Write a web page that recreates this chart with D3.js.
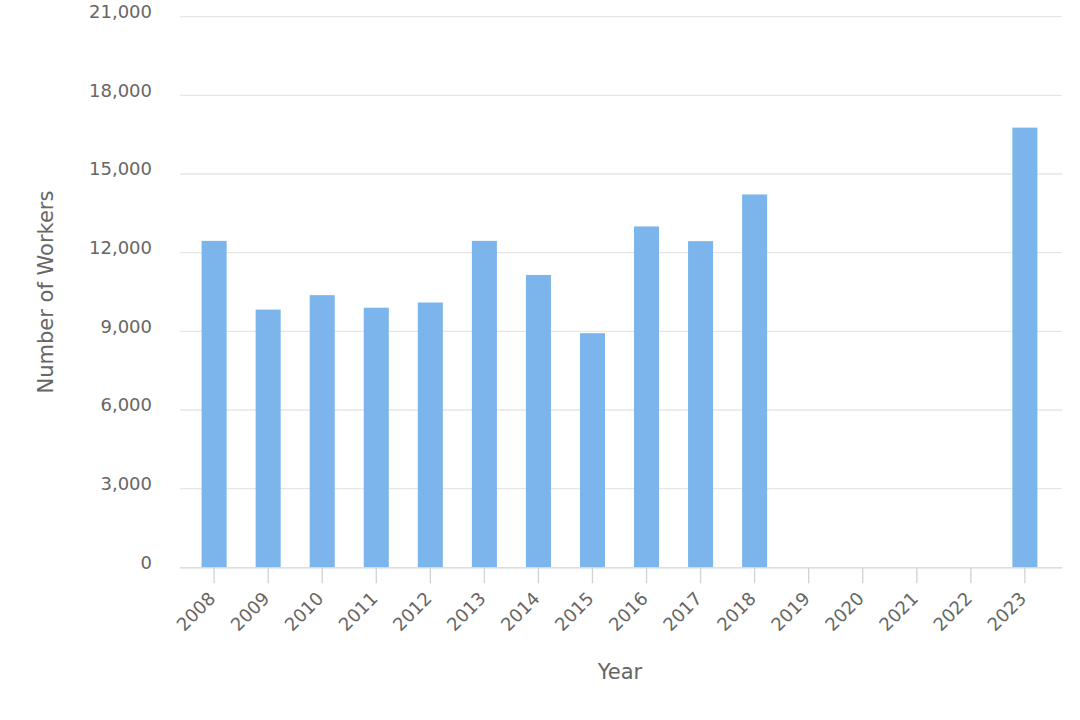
<!DOCTYPE html>
<html>
<head>
<meta charset="utf-8">
<script src="https://cdn.jsdelivr.net/npm/d3@7"></script>
<style>
  html, body { margin: 0; padding: 0; background: #ffffff; }
  svg { display: block; }
  svg text { font-family: "DejaVu Sans", Verdana, sans-serif !important; }
</style>
</head>
<body>
<svg id="chart" width="1080" height="720"></svg>
<script>
const years = ["2008","2009","2010","2011","2012","2013","2014","2015","2016","2017","2018","2019","2020","2021","2022","2023"];
const workers = [12450, 9830, 10380, 9900, 10100, 12450, 11150, 8930, 13000, 12440, 14220, null, null, null, null, 16770];
const yTicks = [0, 3000, 6000, 9000, 12000, 15000, 18000, 21000];
const xTitle = "Year";
const yTitle = "Number of Workers";

const FONT = "DejaVu Sans, Verdana, sans-serif";
const svg = d3.select("#chart");
const plotLeft = 180, plotRight = 1062, plotTop = 16.7, plotBottom = 567.3;

const x = d3.scaleBand().domain(years).range([187, 1052]).paddingInner(0.537).paddingOuter(0.27);
const y = d3.scaleLinear().domain([0, 21000]).range([plotBottom, plotTop]);

// gridlines
svg.append("g").selectAll("line").data(yTicks.filter(d => d > 0)).join("line")
  .attr("x1", plotLeft).attr("x2", plotRight)
  .attr("y1", d => y(d)).attr("y2", d => y(d))
  .attr("stroke", "#e6e6e6").attr("stroke-width", 1.3);

// y axis labels
const yAxis = d3.axisLeft(y).tickValues(yTicks).tickSize(0).tickPadding(0)
  .tickFormat(d3.format(","));
const yg = svg.append("g").attr("transform", `translate(152,0)`).call(yAxis);
yg.attr("font-family", FONT);
yg.select(".domain").remove();
yg.selectAll("text").attr("fill", "#666666").attr("font-size", 18).attr("dy", "0.05em");

// bars
svg.append("g").selectAll("rect").data(years.map((yr, i) => ({yr, v: workers[i]})).filter(d => d.v != null)).join("rect")
  .attr("x", d => x(d.yr))
  .attr("width", x.bandwidth())
  .attr("y", d => y(d.v))
  .attr("height", d => y(0) - y(d.v))
  .attr("fill", "#7cb5ec");

// x axis
const xAxis = d3.axisBottom(x).tickSize(16).tickPadding(4);
const xg = svg.append("g").attr("transform", `translate(0,${plotBottom})`).call(xAxis);
xg.attr("font-family", FONT);
xg.select(".domain").attr("d", `M${plotLeft},0.5H${plotRight}`).attr("stroke", "#cfd3d8").attr("stroke-width", 1.3);
xg.selectAll(".tick line").attr("stroke", "#d2d2d2").attr("stroke-width", 1.3);
xg.selectAll(".tick text")
  .attr("fill", "#666666").attr("font-size", 18)
  .attr("text-anchor", "end")
  .attr("transform", "translate(-2,28) rotate(-45)")
  .attr("y", 0).attr("dy", "0.35em");

// axis titles
svg.append("text").attr("x", 620).attr("y", 679).attr("text-anchor", "middle")
  .attr("font-family", FONT)
  .attr("fill", "#666666").attr("font-size", 21).text(xTitle);
svg.append("text").attr("transform", "translate(53,292) rotate(-90)").attr("text-anchor", "middle")
  .attr("font-family", FONT)
  .attr("fill", "#666666").attr("font-size", 21).text(yTitle);
</script>
</body>
</html>
